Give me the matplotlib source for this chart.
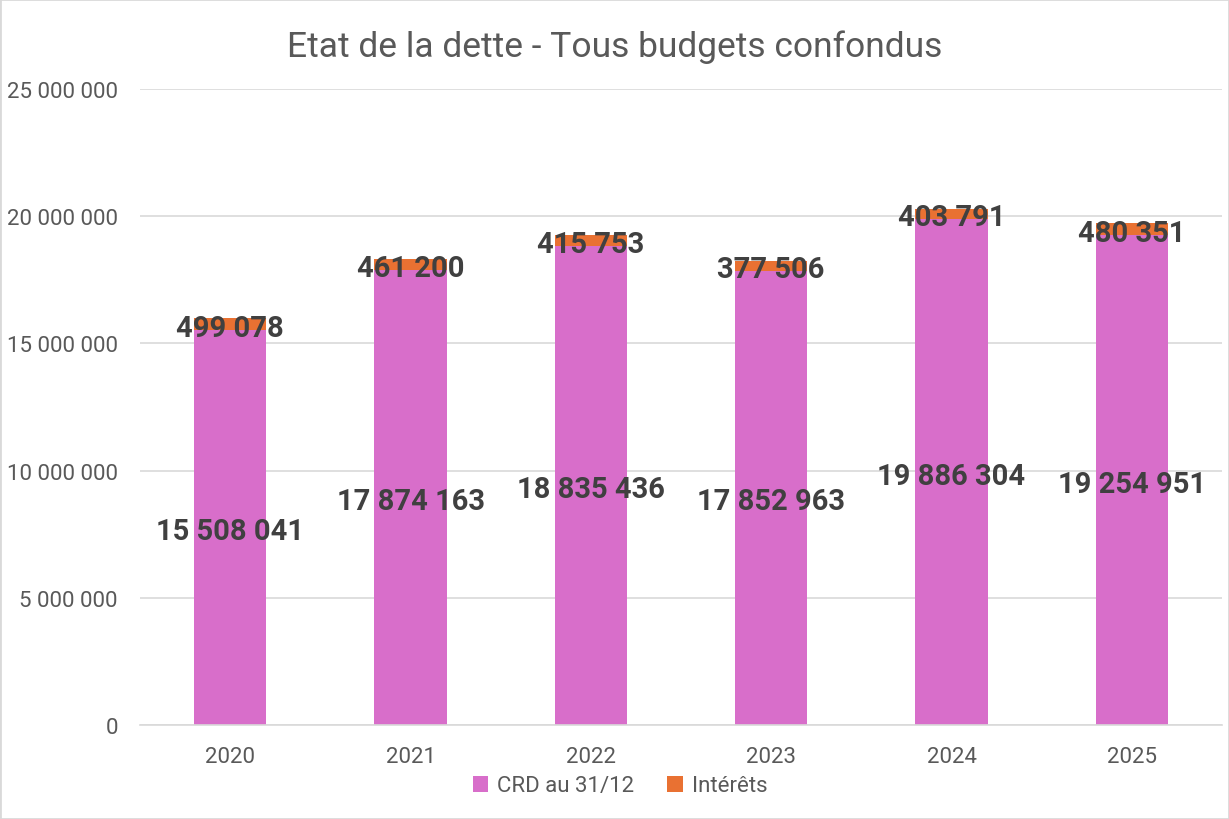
import matplotlib.pyplot as plt
from matplotlib.patches import Rectangle

annees = ["2020", "2021", "2022", "2023", "2024", "2025"]
crd = [15508041, 17874163, 18835436, 17852963, 19886304, 19254951]
interets = [499078, 461200, 415753, 377506, 403791, 480351]
yticks = [0, 5000000, 10000000, 15000000, 20000000, 25000000]

ROSE = '#D86ECA'
ORANGE = '#E97132'
GRIS = '#595959'
GRIS_FONCE = '#404040'

plt.rcParams['font.family'] = ['Roboto', 'DejaVu Sans']


def fmt(v):
    return f"{v:,.0f}".replace(",", " ")


fig = plt.figure(figsize=(12.29, 8.2), dpi=100)
ax = fig.add_axes([140 / 1229, 1 - 726 / 820, 1082 / 1229, 636 / 820])

x = range(len(annees))
b1 = ax.bar(x, crd, width=0.4, color=ROSE, label="CRD au 31/12", zorder=2)
b2 = ax.bar(x, interets, width=0.4, bottom=crd, color=ORANGE, label="Intérêts", zorder=2)

# etiquettes au centre de chaque segment, un peu decalees vers le bas comme Excel
for i in x:
    ax.annotate(fmt(crd[i]), (i, crd[i] / 2), xytext=(0, -2.5), textcoords='offset points',
                ha='center', va='center', fontsize=21, fontweight='bold',
                color=GRIS_FONCE, zorder=3)
    ax.annotate(fmt(interets[i]), (i, crd[i] + interets[i] / 2), xytext=(0, -2.5),
                textcoords='offset points', ha='center', va='center', fontsize=21,
                fontweight='bold', color=GRIS_FONCE, zorder=3)

ax.set_xlim(-0.5, len(annees) - 0.5)
ax.set_ylim(0, 25000000)
ax.set_xticks(list(x))
ax.set_xticklabels(annees)
ax.set_yticks(yticks)
ax.set_yticklabels([fmt(v) for v in yticks])
ax.tick_params(axis='both', length=0, labelsize=16, labelcolor=GRIS)
ax.tick_params(axis='y', pad=16)
ax.tick_params(axis='x', pad=15)
ax.grid(axis='y', color='#D9D9D9', linewidth=1.2, zorder=0)
for s in ['top', 'right', 'left']:
    ax.spines[s].set_visible(False)
ax.spines['bottom'].set_color('#D9D9D9')
ax.spines['bottom'].set_linewidth(1.2)

fig.suptitle("Etat de la dette - Tous budgets confondus", y=1 - 47 / 820, va='center',
             fontsize=25.5, color=GRIS)

leg = fig.legend(handles=[b1, b2], loc='center', bbox_to_anchor=(620 / 1229, 1 - 787 / 820),
                 ncol=2, frameon=False, fontsize=16, handlelength=0.7, handleheight=0.7,
                 handletextpad=0.4, columnspacing=1.5)
for t in leg.get_texts():
    t.set_color(GRIS)

fig.patches.append(Rectangle((0, 0), 1, 1, transform=fig.transFigure, fill=False,
                             edgecolor='#D9D9D9', linewidth=2))

fig.savefig("out.png", dpi=100)
plt.close(fig)
